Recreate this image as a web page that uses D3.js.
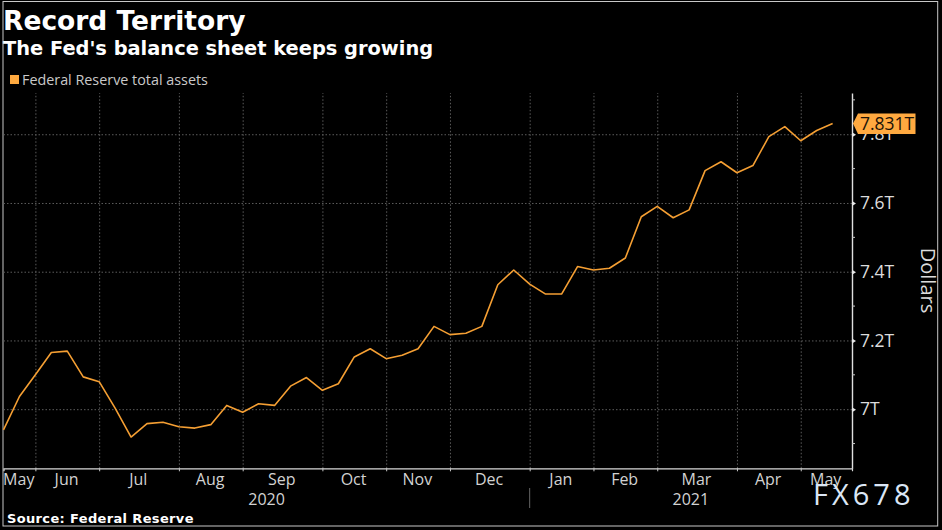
<!DOCTYPE html>
<html lang="en">
<head>
    <meta charset="UTF-8">
    <title>Record Territory</title>
    <style>
        html, body { margin: 0; background: #000; }
        svg { display: block; }
        text { font-family: "Open Sans", sans-serif; }
        .heavy { font-family: "DejaVu Sans", sans-serif; font-weight: bold; }
        .grid line { stroke: #5c5c5c; stroke-dasharray: 1.5 2; }
        .grid path { display: none; }
    </style>
</head>
<body>
    <svg id="chart" width="942" height="530"></svg>
    <script src="https://d3js.org/d3.v7.min.js"></script>
    <script>
        // weekly Fed balance sheet readings (Wednesdays), in trillions
        const dates = [
            "2020-05-20", "2020-05-27", "2020-06-03", "2020-06-10", "2020-06-17", "2020-06-24",
            "2020-07-01", "2020-07-08", "2020-07-15", "2020-07-22", "2020-07-29", "2020-08-05",
            "2020-08-12", "2020-08-19", "2020-08-26", "2020-09-02", "2020-09-09", "2020-09-16",
            "2020-09-23", "2020-09-30", "2020-10-07", "2020-10-14", "2020-10-21", "2020-10-28",
            "2020-11-04", "2020-11-11", "2020-11-18", "2020-11-25", "2020-12-02", "2020-12-09",
            "2020-12-16", "2020-12-23", "2020-12-30", "2021-01-06", "2021-01-13", "2021-01-20",
            "2021-01-27", "2021-02-03", "2021-02-10", "2021-02-17", "2021-02-24", "2021-03-03",
            "2021-03-10", "2021-03-17", "2021-03-24", "2021-03-31", "2021-04-07", "2021-04-14",
            "2021-04-21", "2021-04-28", "2021-05-05", "2021-05-12", "2021-05-19"
        ];
        const assets = [
            6.94, 7.037, 7.10, 7.165, 7.169, 7.094,
            7.08, 7.003, 6.919, 6.958, 6.962, 6.949,
            6.945, 6.955, 7.011, 6.991, 7.016, 7.011,
            7.067, 7.092, 7.055, 7.074, 7.152, 7.176,
            7.147, 7.157, 7.176, 7.241, 7.217, 7.221,
            7.241, 7.362, 7.405, 7.364, 7.335, 7.335,
            7.415, 7.405, 7.41, 7.44, 7.56, 7.59,
            7.557, 7.58, 7.694, 7.72, 7.688, 7.709,
            7.793, 7.822, 7.781, 7.811, 7.831
        ];
        const monthStarts = [
            "2020-06-03", "2020-07-01", "2020-08-05", "2020-09-02", "2020-10-07", "2020-11-04",
            "2020-12-02", "2021-01-06", "2021-02-03", "2021-03-03", "2021-04-07", "2021-05-05"
        ];
        const monthLabels = ["May", "Jun", "Jul", "Aug", "Sep", "Oct", "Nov", "Dec", "Jan", "Feb", "Mar", "Apr", "May"];
        const yearLabels = ["2020", "2021"];
        const yearBreak = "2021-01-06";
        const yTicks = [7, 7.2, 7.4, 7.6, 7.8];
        const yMinorTicks = [6.9, 7.1, 7.3, 7.5, 7.7, 7.9];

        const plotLeft = 3.5, plotRight = 852, plotTop = 93, plotBottom = 468.3;
        const orange = "#f59f33";

        const svg = d3.select("#chart");
        const parseDate = d3.utcParse("%Y-%m-%d");

        const x = d3.scaleUtc()
            .domain([parseDate(dates[0]), new Date(Date.UTC(2021, 4, 27, 12))])
            .range([plotLeft, plotRight]);
        const y = d3.scaleLinear().domain([6.828, 7.92]).range([plotBottom, plotTop]);

        // outer frame
        svg.append("rect")
            .attr("x", 3).attr("y", 1.5).attr("width", 934.7).attr("height", 524.5)
            .attr("fill", "none").attr("stroke", "#c8c8c8").attr("stroke-width", 1);

        // titles
        svg.append("text").attr("class", "heavy").attr("x", 3).attr("y", 30).attr("fill", "#fff")
            .attr("font-size", 26.5).text("Record Territory");
        svg.append("text").attr("class", "heavy").attr("x", 3).attr("y", 55).attr("fill", "#fff")
            .attr("font-size", 19.4).text("The Fed's balance sheet keeps growing");

        // legend
        svg.append("rect").attr("x", 10).attr("y", 75).attr("width", 9).attr("height", 9).attr("fill", "#ffa93f");
        svg.append("text").attr("x", 22).attr("y", 85).attr("fill", "#c9c9c9")
            .attr("font-size", 14.35).text("Federal Reserve total assets");

        // grid
        const monthDates = monthStarts.map(parseDate);
        svg.append("g").attr("class", "grid")
            .attr("transform", `translate(0,${plotBottom})`)
            .call(d3.axisBottom(x).tickValues(monthDates).tickSize(-(plotBottom - plotTop)).tickFormat(""));
        svg.append("g").attr("class", "grid")
            .attr("transform", `translate(${plotLeft},0)`)
            .call(d3.axisLeft(y).tickValues(yTicks).tickSize(-(plotRight - plotLeft)).tickFormat(""));

        // x axis
        const xAxis = svg.append("g")
            .attr("transform", `translate(0,${plotBottom})`)
            .call(d3.axisBottom(x).tickValues(monthDates).tickSize(3).tickFormat(""));
        xAxis.selectAll("line").attr("stroke", "#c8c8c8");
        xAxis.select("path").attr("stroke", "#d8d8d8").attr("stroke-width", 1.2);

        // month labels sit in the middle of their month
        const edges = [plotLeft, ...monthDates.map(x), plotRight];
        svg.append("g").selectAll("text").data(monthLabels).join("text")
            .attr("x", (d, i) => (edges[i] + edges[i + 1]) / 2 - 0.7)
            .attr("y", 485)
            .attr("text-anchor", "middle")
            .attr("fill", "#d2d2d2")
            .attr("font-size", 16)
            .text(d => d);

        const breakX = x(parseDate(yearBreak));
        const yearEdges = [plotLeft, breakX, plotRight];
        svg.append("g").selectAll("text").data(yearLabels).join("text")
            .attr("x", (d, i) => (yearEdges[i] + yearEdges[i + 1]) / 2)
            .attr("y", 505)
            .attr("text-anchor", "middle")
            .attr("fill", "#d2d2d2")
            .attr("font-size", 16)
            .text(d => d);
        svg.append("line")
            .attr("x1", breakX).attr("x2", breakX).attr("y1", 488).attr("y2", 508)
            .attr("stroke", "#666");

        // y axis
        const yAxis = svg.append("g")
            .attr("transform", `translate(${plotRight},0)`)
            .call(d3.axisRight(y).tickValues(yTicks).tickSize(0).tickPadding(8).tickFormat(d => `${d}T`));
        yAxis.select("path").attr("stroke", "#e0e0e0").attr("stroke-width", 1.4);
        yAxis.selectAll("text")
            .attr("fill", "#dcdcdc")
            .attr("font-size", 17.5)
            .style("font-family", '"Open Sans", sans-serif');
        yAxis.selectAll(".tick").append("path")
            .attr("d", "M0,-2.5L4,0L0,2.5Z").attr("fill", "#e8e8e8");
        svg.append("g").selectAll("line").data(yMinorTicks).join("line")
            .attr("x1", plotRight).attr("x2", plotRight + 3)
            .attr("y1", d => y(d)).attr("y2", d => y(d))
            .attr("stroke", "#c8c8c8");

        svg.append("text")
            .attr("transform", `translate(921,280.5) rotate(90)`)
            .attr("text-anchor", "middle")
            .attr("fill", "#dcdcdc")
            .attr("font-size", 20)
            .text("Dollars");

        // series
        const line = d3.line()
            .x((d, i) => x(parseDate(dates[i])))
            .y(d => y(d));
        svg.append("path")
            .datum(assets)
            .attr("fill", "none")
            .attr("stroke", orange)
            .attr("stroke-width", 1.6)
            .attr("stroke-linejoin", "round")
            .attr("d", line);

        // last value tag
        const lastValue = assets[assets.length - 1];
        const tagY = y(lastValue);
        svg.append("path")
            .attr("d", `M853,${tagY}L858,${tagY - 10}H915.5V${tagY + 10.5}H858Z`)
            .attr("fill", "#ffa940");
        svg.append("text")
            .attr("x", 860).attr("y", tagY + 6.5)
            .attr("fill", "#1a1206")
            .attr("font-size", 17.5)
            .text(`${lastValue}T`);

        // source and watermark
        svg.append("text").attr("class", "heavy").attr("x", 7).attr("y", 523).attr("fill", "#fff")
            .attr("font-size", 13).attr("letter-spacing", 0.35)
            .text("Source: Federal Reserve");
        svg.append("text").attr("x", 813).attr("y", 505).attr("fill", "#dbe6f5")
            .attr("font-size", 29).attr("letter-spacing", 4)
            .text("FX678");
    </script>
</body>
</html>
